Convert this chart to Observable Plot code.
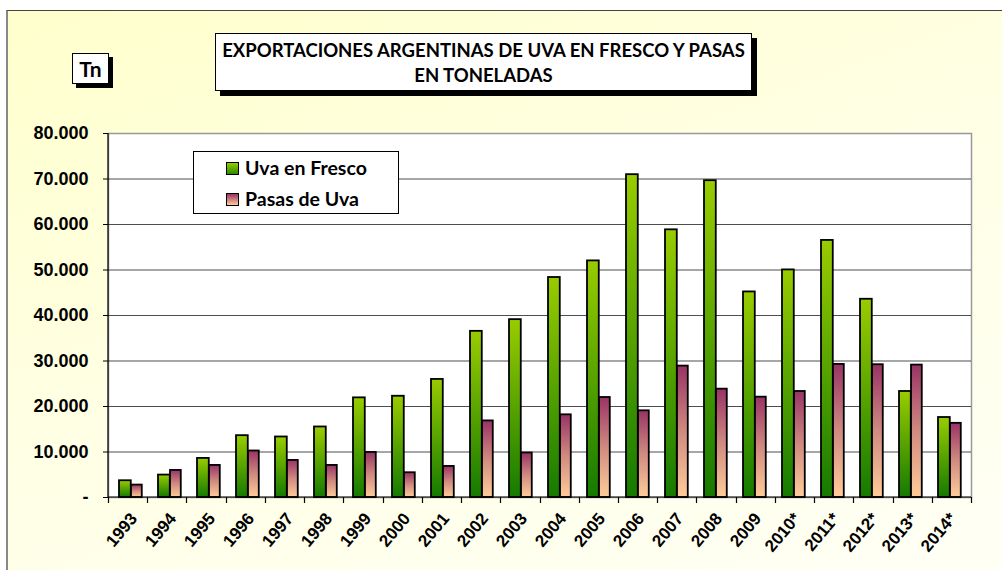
<!DOCTYPE html>
<html>
<head>
<meta charset="utf-8">
<script src="https://cdn.jsdelivr.net/npm/d3@7"></script>
<script src="https://cdn.jsdelivr.net/npm/@observablehq/plot@0.6"></script>
<style>
  html, body { margin: 0; padding: 0; background: #fff; }
  #wrap { position: relative; width: 1002px; height: 570px; overflow: hidden; background: #fff; }
  #bg { position: absolute; left: 6px; top: 10px; width: 1010px; height: 580px;
        border-top: 1.5px solid #444; border-left: 2px solid #888;
        background: linear-gradient(160deg, #ffffcc 0%, #ffffe4 45%, #fffff6 100%); }
  #chart { position: absolute; left: 0; top: 0; }
  .box { position: absolute; background: #fff; border: 1px solid #000; box-shadow: 5px 5px 0 #000;
         font-family: Lato, "Liberation Sans", sans-serif; font-weight: bold; color: #000; }
  #title { left: 215px; top: 33px; width: 537px; height: 58px; text-align: center; font-size: 18.5px; line-height: 25px; padding-top: 4px; box-sizing: border-box; white-space: nowrap; }
  #tn { left: 72px; top: 53px; width: 35px; height: 29px; text-align: center; font-size: 21px; line-height: 29px; box-shadow: 4px 4px 0 #000; }
  #legend { position: absolute; left: 193px; top: 151px; width: 206px; height: 63px; background: #fff; border: 1px solid #000; box-sizing: border-box;
            font-family: Lato, "Liberation Sans", sans-serif; font-weight: bold; font-size: 19.5px; }
  .item { position: absolute; left: 32px; height: 22px; line-height: 22px; white-space: nowrap; }
  .sw { display: inline-block; width: 11px; height: 11px; border: 1px solid #000; margin-right: 6px; vertical-align: 0px; }
</style>
</head>
<body>
<div id="wrap">
  <div id="bg"></div>
  <div id="chart"></div>
  <div class="box" id="title">EXPORTACIONES ARGENTINAS DE UVA EN FRESCO Y PASAS<br>EN TONELADAS</div>
  <div class="box" id="tn">Tn</div>
  <div id="legend">
    <div class="item" style="top:5px"><span class="sw" style="background:linear-gradient(#99cc00,#2a8a00)"></span>Uva en Fresco</div>
    <div class="item" style="top:36px"><span class="sw" style="background:linear-gradient(#993366,#ffcc99)"></span>Pasas de Uva</div>
  </div>
</div>
<script>
const years = ["1993","1994","1995","1996","1997","1998","1999","2000","2001","2002","2003","2004","2005","2006","2007","2008","2009","2010*","2011*","2012*","2013*","2014*"];
const uvaFresco = [3680,4930,8590,13590,13300,15500,21900,22250,25950,36520,39090,48350,52000,70950,58830,69630,45180,50020,56500,43570,23300,17580];
const pasasUva = [2730,5950,7050,10220,8150,7050,9910,5440,6830,16830,9780,18170,21980,19050,28880,23810,22050,23300,29250,29180,29100,16300];
const yTicks = [0,10000,20000,30000,40000,50000,60000,70000,80000];
const gridValues = [10000,20000,30000,40000,50000,60000,70000];

const fresco = years.map((y, i) => ({year: y, value: uvaFresco[i]}));
const pasas = years.map((y, i) => ({year: y, value: pasasUva[i]}));

const W = 1002, H = 570;
const mL = 108, mR = 31, mT = 133, mB = 73;
const band = (W - mL - mR) / years.length;

function defs() {
  const svgNS = "http://www.w3.org/2000/svg";
  const d = document.createElementNS(svgNS, "defs");
  d.innerHTML = `
    <linearGradient id="gGreen" x1="0" y1="0" x2="0" y2="1">
      <stop offset="0" stop-color="#99cc00"/>
      <stop offset="1" stop-color="#157a00"/>
    </linearGradient>
    <linearGradient id="gPink" x1="0" y1="0" x2="0" y2="1">
      <stop offset="0" stop-color="#993366"/>
      <stop offset="0.5" stop-color="#d08a80"/>
      <stop offset="1" stop-color="#ffcc99"/>
    </linearGradient>`;
  return d;
}

function catTicks(index, scales, values, dims) {
  const svgNS = "http://www.w3.org/2000/svg";
  const g = document.createElementNS(svgNS, "g");
  const y0 = scales.y(0);
  const left = dims.marginLeft, right = dims.width - dims.marginRight;
  const bw = (right - left) / years.length;
  let path = `M${left},${dims.marginTop}V${y0 + 0.5}M${left - 0.5},${y0}H${right}`;
  for (let i = 0; i <= years.length; i++) {
    const x = Math.round(left + i * bw) + 0.5;
    path += `M${x},${y0}V${y0 + 6}`;
  }
  const p = document.createElementNS(svgNS, "path");
  p.setAttribute("d", path);
  p.setAttribute("stroke", "#000");
  p.setAttribute("stroke-width", "1.2");
  p.setAttribute("fill", "none");
  g.appendChild(p);
  return g;
}

const chart = Plot.plot({
  width: W,
  height: H,
  marginLeft: mL,
  marginRight: mR,
  marginTop: mT,
  marginBottom: mB,
  style: {background: "transparent", fontFamily: "'Liberation Sans', Arial, sans-serif", overflow: "visible"},
  x: {domain: years, padding: 0, label: null, axis: null},
  y: {domain: [0, 80000], label: null},
  marks: [
    defs,
    Plot.frame({fill: "white", stroke: "#999", strokeWidth: 1.5}),
    Plot.ruleY(gridValues, {stroke: "#222", strokeWidth: 1, strokeOpacity: 0.8}),
    Plot.barY(fresco, {x: "year", y: "value", fill: "url(#gGreen)", stroke: "#000", strokeWidth: 1.8,
      insetLeft: 8, insetRight: band - 20}),
    Plot.barY(pasas, {x: "year", y: "value", fill: "url(#gPink)", stroke: "#000", strokeWidth: 1.8,
      insetLeft: 20, insetRight: band - 31}),
    catTicks,
    Plot.axisY({ticks: yTicks, tickSize: 5, tickPadding: 15, stroke: "#000",
      tickFormat: d => d === 0 ? "-" : d3.format(",")(d).replace(/,/g, "."),
      fontSize: 18, fontWeight: "bold", fill: "#000", label: null}),
    Plot.text(years, {x: d => d, y: () => 0, text: d => d, rotate: -50, textAnchor: "end", lineAnchor: "middle",
      dx: 3, dy: 18, fontSize: 17, fontWeight: "bold", fill: "#000"})
  ]
});
document.getElementById("chart").appendChild(chart);
</script>
</body>
</html>
